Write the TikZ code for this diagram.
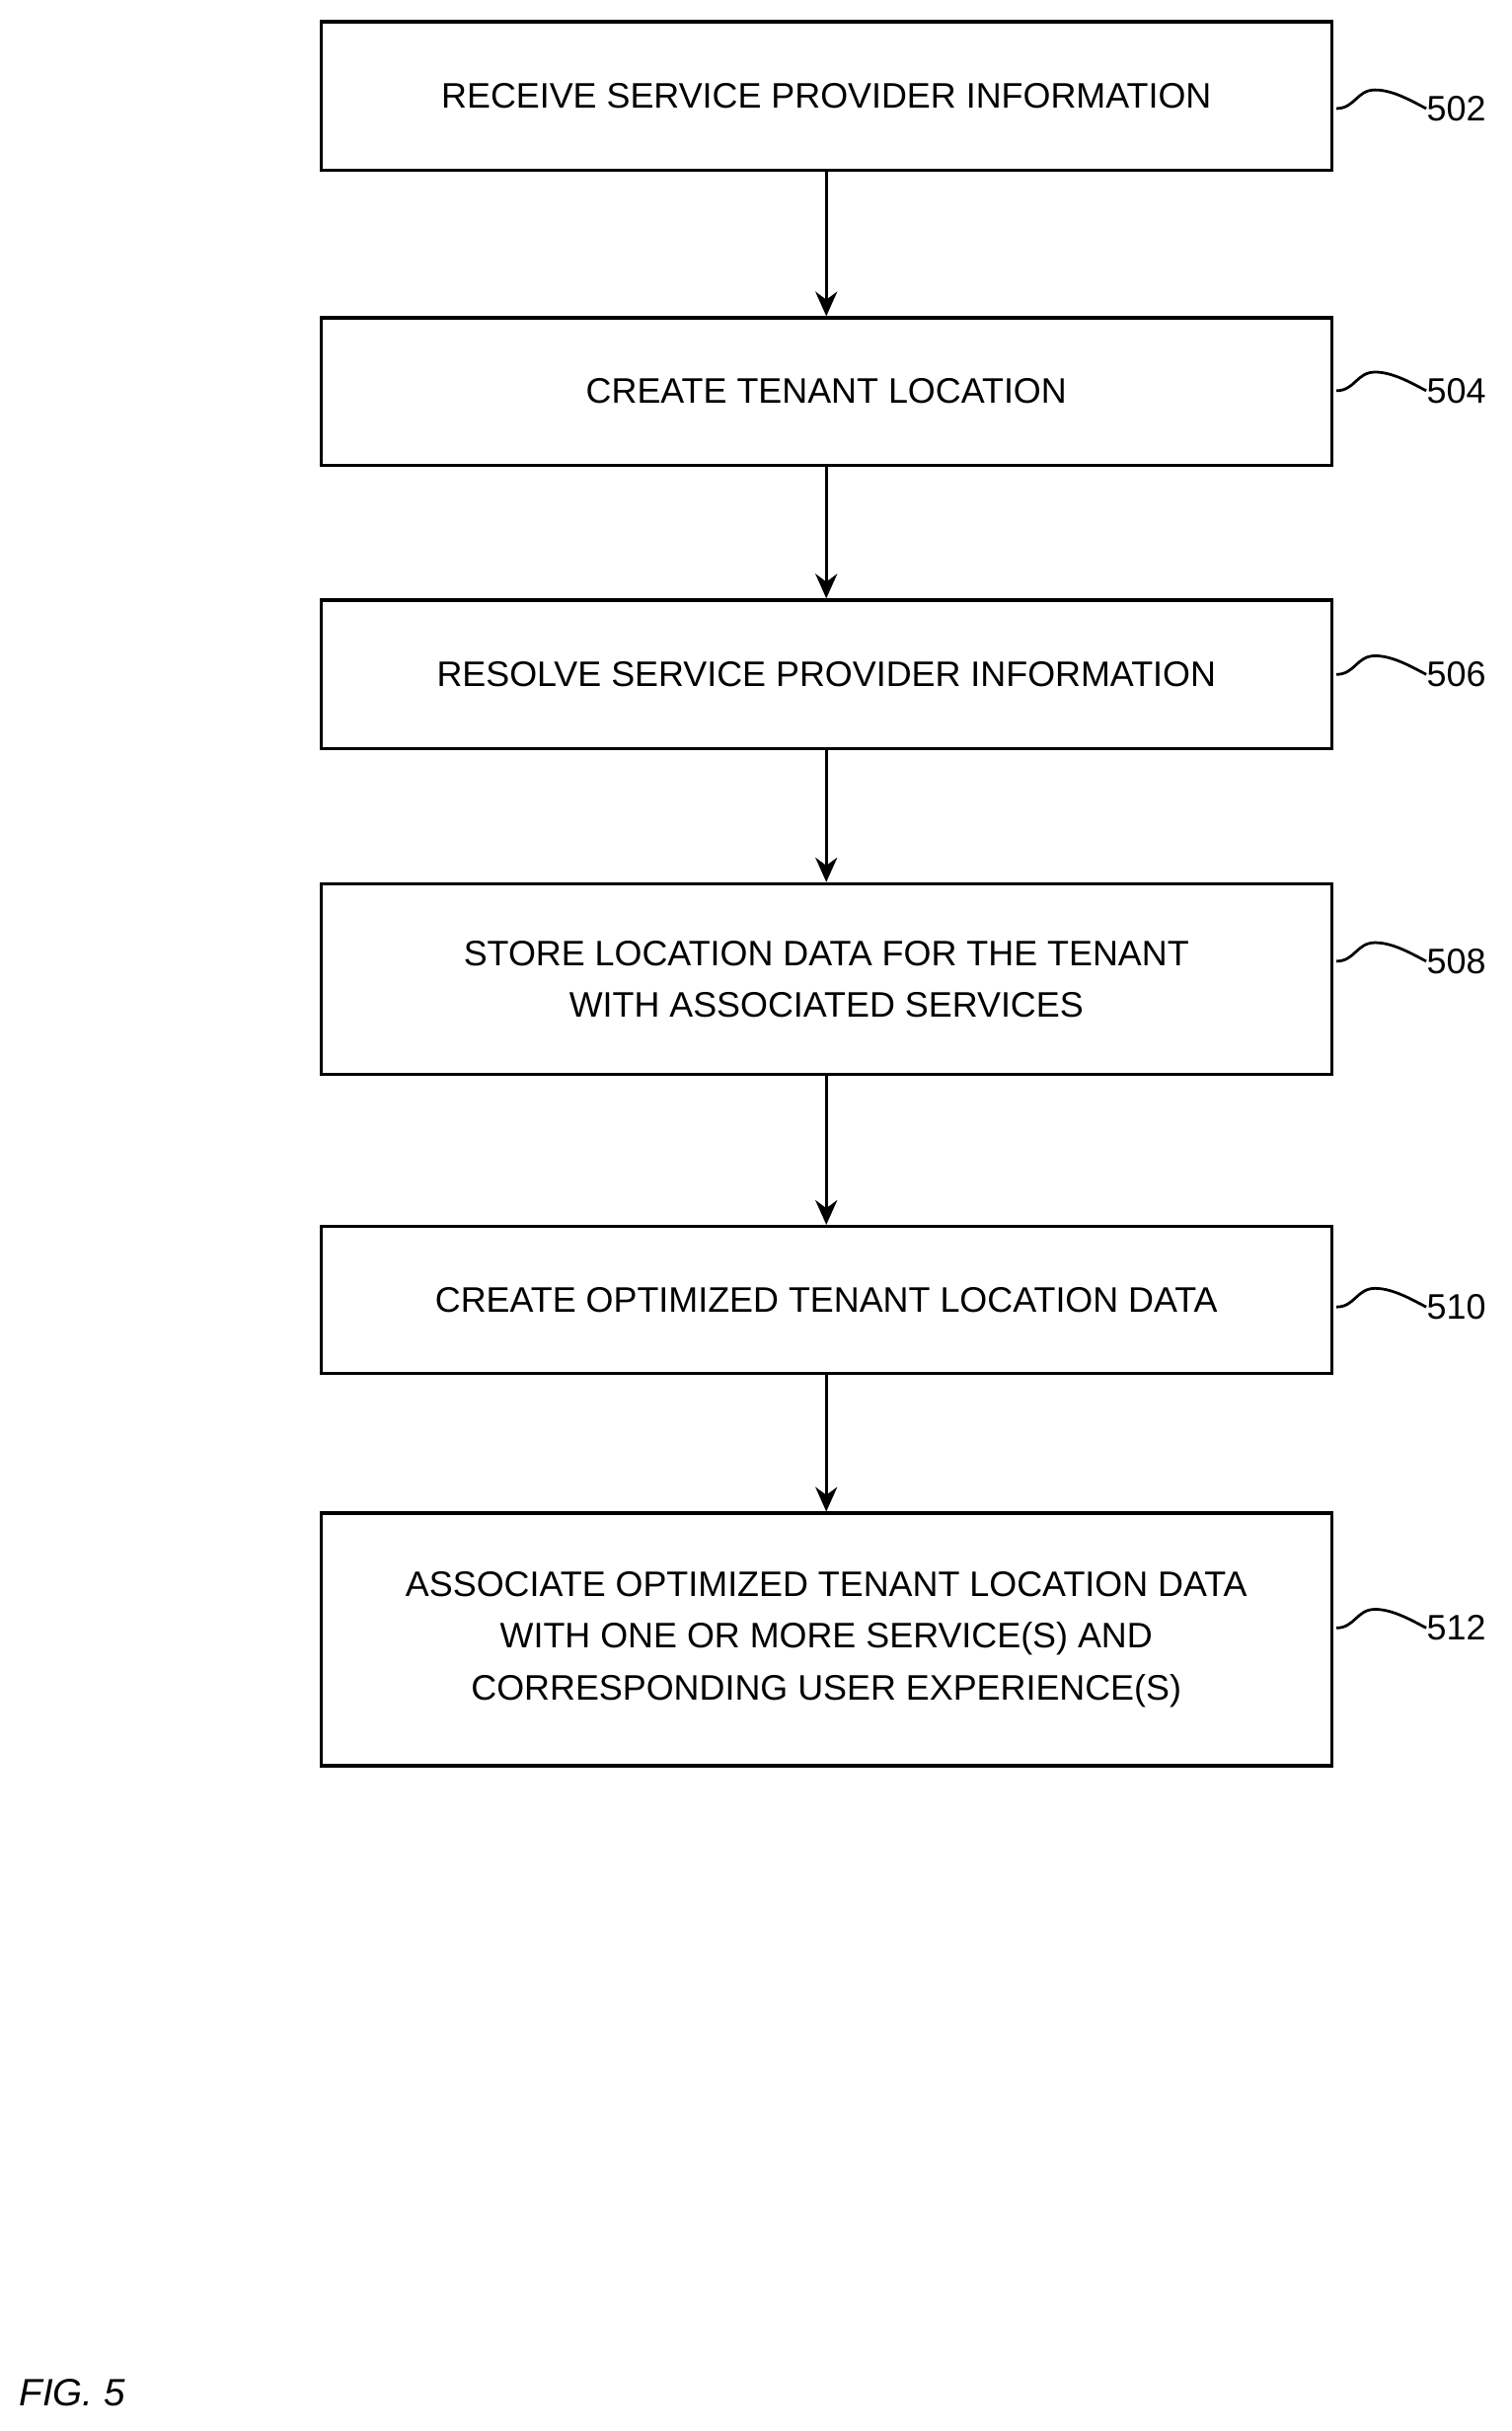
\documentclass[tikz,border=0pt]{standalone}
\usepackage{fontspec}
\setmainfont{Liberation Sans}
\usetikzlibrary{arrows.meta}
\begin{document}
\begin{tikzpicture}[x=0.02cm, y=-0.02cm]
\tikzstyle{every node} = [font=\fontsize{13}{19}\selectfont]
\tikzstyle{stepbox} = [draw, line width=1.2pt, rectangle, minimum width=13.04cm, align=center, inner sep=0pt]
\useasboundingbox (0,0) rectangle (975,1568);
\node[stepbox, minimum height=1.92cm] (receive) at (533, 62) {RECEIVE SERVICE PROVIDER INFORMATION};
\node[stepbox, minimum height=1.90cm] (create) at (533, 252.5) {CREATE TENANT LOCATION};
\node[stepbox, minimum height=1.92cm] (resolve) at (533, 435) {RESOLVE SERVICE PROVIDER INFORMATION};
\node[stepbox, minimum height=2.46cm] (store) at (533, 631.5) {STORE LOCATION DATA FOR THE TENANT\\ WITH ASSOCIATED SERVICES};
\node[stepbox, minimum height=1.90cm] (optimize) at (533, 838.5) {CREATE OPTIMIZED TENANT LOCATION DATA};
\node[stepbox, minimum height=3.26cm] (associate) at (533, 1057.5) {ASSOCIATE OPTIMIZED TENANT LOCATION DATA\\ WITH ONE OR MORE SERVICE(S) AND\\ CORRESPONDING USER EXPERIENCE(S)};
\foreach \from/\to in {receive/create, create/resolve, resolve/store, store/optimize, optimize/associate}
\draw [-{Stealth[length=9pt, width=8pt]}, line width=1.2pt] (\from) -- (\to);
% reference numerals
\foreach \stp/\num/\y in {receive/502/70, create/504/252, resolve/506/435, store/508/620, optimize/510/843, associate/512/1050}
{
\node[anchor=west, inner sep=0pt] (n\num) at (920, \y) {\num};
\coordinate (s\num) at (862, \y);
\draw [line width=1pt] (s\num) .. controls +(12,0) and +(-12,0) .. ++(25,-12) .. controls +(12,0) and +(-8,-4) .. (n\num.west);
}
\node[anchor=west, inner sep=0pt, font=\itshape\fontsize{14}{17}\selectfont] (fig) at (12, 1543) {FIG. 5};
\end{tikzpicture}
\end{document}
